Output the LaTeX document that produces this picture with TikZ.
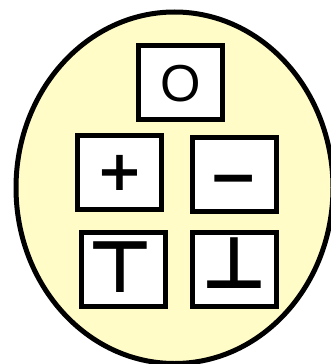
\documentclass[tikz,border=0pt]{standalone}
\usepackage{fontspec}
\newfontfamily\letterfont{Liberation Sans}
\newfontfamily\symbolfont{DejaVu Sans}
\usetikzlibrary{shapes.geometric}
\definecolor{cpale}{HTML}{FFFCC8}
\tikzset{
  every picture/.style={line width=5pt},
  rim/.style={ellipse, draw=black, fill=cpale, inner sep=0pt},
  tile/.style={draw=black, fill=white, minimum width=84pt, minimum height=74pt, inner sep=0pt},
  sym/.style={font=\symbolfont\bfseries\fontsize{#1}{#1}\selectfont, inner sep=0pt},
  sym/.default=56,
  letter/.style={font=\letterfont\fontsize{52}{52}\selectfont, inner sep=0pt},
}

\begin{document}
\begin{tikzpicture}[x=1pt, y=-1pt]
  \useasboundingbox (0,0) rectangle (331,364);
  \clip (0,0) rectangle (331,364);
  % ---------- outer ellipse
  \node[rim, minimum width=317pt, minimum height=351.5pt] (frame) at (174.5,187.75) {};
  % ---------- tiles
  \node[tile] (tileO) at (180,82.5) {};
  \node[tile] (tilePlus) at (119.6,172.8) {};
  \node[tile] (tileMinus) at (234.7,174.2) {};
  \node[tile] (tileTop) at (123.8,269.5) {};
  \node[tile] (tileBot) at (234.7,269.5) {};
  % ---------- symbols
  \node[letter] (symO) at (180.5,83.5) {O};
  \node[sym] (symPlus) at (119.5,173) {+};
  \node[sym=60] (symMinus) at (234,186) {−};
  \node[sym=72] (symTop) at (120.5,267) {⊤};
  \node[sym=72] (symBot) at (234,263) {⊥};
\end{tikzpicture}
\end{document}
